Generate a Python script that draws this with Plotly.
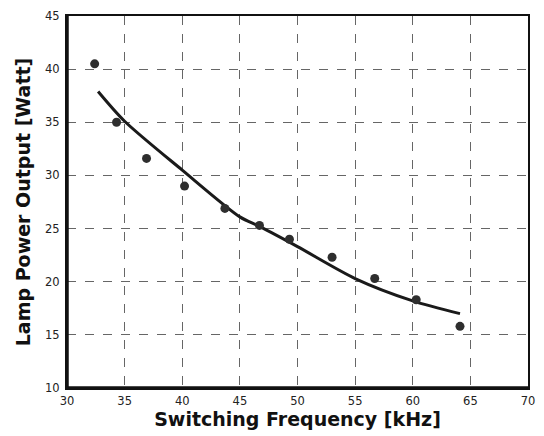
import plotly.graph_objects as go

# measured points
freq_khz = [32.4, 34.3, 36.9, 40.2, 43.7, 46.7, 49.3, 53.0, 56.7, 60.3, 64.1]
power_w = [40.5, 35.0, 31.6, 29.0, 26.9, 25.3, 24.0, 22.3, 20.3, 18.3, 15.8]

# fitted curve
fit_x = [32.7, 35.0, 40.0, 45.0, 46.7, 50.0, 55.0, 60.0, 64.1]
fit_y = [37.9, 35.1, 30.5, 26.1, 25.2, 23.3, 20.3, 18.2, 17.0]

x_ticks = [30, 35, 40, 45, 50, 55, 60, 65, 70]
y_ticks = [10, 15, 20, 25, 30, 35, 40, 45]

fig = go.Figure()
fig.add_trace(go.Scatter(
    x=fit_x, y=fit_y, mode="lines",
    line=dict(color="#1a1a1a", width=3, shape="spline", smoothing=0.8),
    showlegend=False, hoverinfo="skip"))
fig.add_trace(go.Scatter(
    x=freq_khz, y=power_w, mode="markers",
    marker=dict(color="#2e2e2e", size=9),
    showlegend=False))

title_font = dict(family="DejaVu Sans, Verdana, sans-serif", size=19, color="#111", weight="bold")

fig.update_layout(
    width=544, height=436,
    margin=dict(l=67, r=9, t=14, b=47),
    paper_bgcolor="white", plot_bgcolor="white",
    font=dict(family="DejaVu Sans, Verdana, sans-serif", color="#222", size=11.5),
    shapes=[
        dict(type="line", xref="paper", yref="paper", x0=0, x1=0, y0=0, y1=1,
             line=dict(color="#111", width=3.5)),
        dict(type="line", xref="paper", yref="paper", x0=0, x1=1, y0=0, y1=0,
             line=dict(color="#111", width=3.5)),
    ],
)
fig.update_xaxes(
    range=[30, 70], tickvals=x_ticks, ticktext=[str(v) for v in x_ticks],
    showgrid=True, gridcolor="#666", griddash="dash", gridwidth=1,
    showline=True, linecolor="#111", linewidth=2, mirror=True,
    ticks="", ticklabelstandoff=1, zeroline=False,
    title=dict(text="Switching Frequency [kHz]", standoff=6, font=title_font),
)
fig.update_yaxes(
    range=[10, 45], tickvals=y_ticks, ticktext=[str(v) for v in y_ticks],
    showgrid=True, gridcolor="#666", griddash="dash", gridwidth=1,
    showline=True, linecolor="#111", linewidth=2, mirror=True,
    ticks="", zeroline=False, ticklabelstandoff=3,
    title=dict(text="Lamp Power Output [Watt]", standoff=9, font=title_font),
)

fig.write_html("out.html")
